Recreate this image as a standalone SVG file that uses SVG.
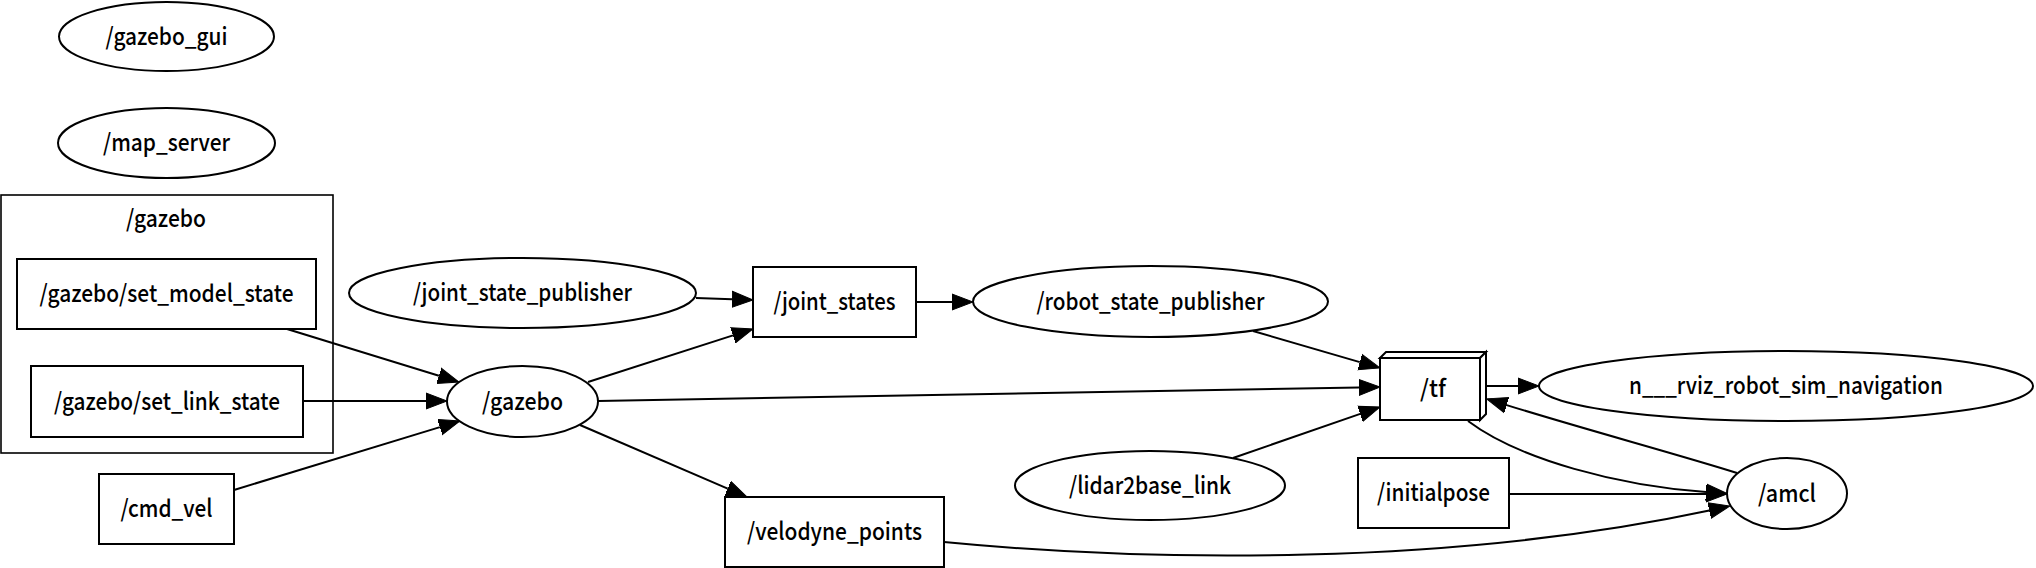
<svg xmlns="http://www.w3.org/2000/svg" width="2036" height="568" viewBox="0 0 2036 568">
<style>
  .n { fill: #fff; stroke: #000; stroke-width: 2; }
  .c { fill: none; stroke: #000; stroke-width: 1.6; }
  .e { fill: none; stroke: #000; stroke-width: 2; marker-end: url(#ah); }
  text { font-family: "Noto Sans CJK SC", "Noto Sans", sans-serif; font-size: 24px; font-weight: 500; fill: #000; text-anchor: middle; }
</style>
<defs>
  <marker id="ah" markerUnits="userSpaceOnUse" markerWidth="24" markerHeight="20" viewBox="0 -10 24 20" refX="0" refY="0" orient="auto">
    <path d="M0,-8 L21,0 L0,8 z" fill="#000" stroke="#000" stroke-width="1"/>
  </marker>
</defs>
<rect width="2036" height="568" fill="#fff"/>

<g id="cluster_gazebo">
  <rect class="c" x="1" y="195" width="332" height="258"/>
  <text x="166" y="227" textLength="80" lengthAdjust="spacingAndGlyphs">/gazebo</text>
</g>

<g id="edges">
  <path class="e" d="M287,329 L438.9,375.8"/>
  <path class="e" d="M303,401 L426,401"/>
  <path class="e" d="M234,490 L439.9,427.1"/>
  <path class="e" d="M696,298 L732,299.3"/>
  <path class="e" d="M588,382 L733,335.4"/>
  <path class="e" d="M598,401 L1359,387.4"/>
  <path class="e" d="M580,425 L727.7,488.7"/>
  <path class="e" d="M916,302 L952,302"/>
  <path class="e" d="M1253,331 L1359.8,362.1"/>
  <path class="e" d="M1233,458 L1360.2,413.9"/>
  <path class="e" d="M1487,386 L1518,386"/>
  <path class="e" d="M1737,473 C1680,455 1580,428 1506.7,405.1"/>
  <path class="e" d="M1468,421 C1520,460 1620,486 1706,492"/>
  <path class="e" d="M1509,494 L1706,494"/>
  <path class="e" d="M944,542 C1150,562 1450,566 1709.3,510.5"/>
</g>

<g id="gazebo_gui">
  <ellipse class="n" cx="166.5" cy="36.5" rx="107.5" ry="34.5"/>
  <text x="166.5" y="45" textLength="122" lengthAdjust="spacingAndGlyphs">/gazebo_gui</text>
</g>
<g id="map_server">
  <ellipse class="n" cx="166.5" cy="143" rx="108.5" ry="35"/>
  <text x="166.5" y="151" textLength="127" lengthAdjust="spacingAndGlyphs">/map_server</text>
</g>
<g id="set_model_state">
  <rect class="n" x="17" y="259" width="299" height="70"/>
  <text x="166.5" y="302" textLength="254" lengthAdjust="spacingAndGlyphs">/gazebo/set_model_state</text>
</g>
<g id="set_link_state">
  <rect class="n" x="31" y="366" width="272" height="71"/>
  <text x="167" y="410" textLength="226" lengthAdjust="spacingAndGlyphs">/gazebo/set_link_state</text>
</g>
<g id="cmd_vel">
  <rect class="n" x="99" y="474" width="135" height="70"/>
  <text x="166.5" y="517" textLength="92" lengthAdjust="spacingAndGlyphs">/cmd_vel</text>
</g>
<g id="gazebo">
  <ellipse class="n" cx="522.5" cy="401.5" rx="75.5" ry="35.5"/>
  <text x="522.5" y="410" textLength="81" lengthAdjust="spacingAndGlyphs">/gazebo</text>
</g>
<g id="joint_state_publisher">
  <ellipse class="n" cx="522.5" cy="293" rx="173.5" ry="35"/>
  <text x="522.5" y="301" textLength="219" lengthAdjust="spacingAndGlyphs">/joint_state_publisher</text>
</g>
<g id="joint_states">
  <rect class="n" x="753" y="267" width="163" height="70"/>
  <text x="834.5" y="310" textLength="122" lengthAdjust="spacingAndGlyphs">/joint_states</text>
</g>
<g id="robot_state_publisher">
  <ellipse class="n" cx="1150.5" cy="301.5" rx="177.5" ry="35.5"/>
  <text x="1150.5" y="310" textLength="228" lengthAdjust="spacingAndGlyphs">/robot_state_publisher</text>
</g>
<g id="velodyne_points">
  <rect class="n" x="725" y="497" width="219" height="70"/>
  <text x="834.5" y="540" textLength="175" lengthAdjust="spacingAndGlyphs">/velodyne_points</text>
</g>
<g id="lidar2base_link">
  <ellipse class="n" cx="1150" cy="485.5" rx="135" ry="34.5"/>
  <text x="1150" y="494" textLength="162" lengthAdjust="spacingAndGlyphs">/lidar2base_link</text>
</g>
<g id="tf">
  <polygon class="n" points="1380,358 1386,352 1486,352 1480,358"/>
  <polygon class="n" points="1480,358 1486,352 1486,414 1480,420"/>
  <rect class="n" x="1380" y="358" width="100" height="62"/>
  <text x="1433" y="397" textLength="26" lengthAdjust="spacingAndGlyphs">/tf</text>
</g>
<g id="rviz">
  <ellipse class="n" cx="1786" cy="386" rx="247" ry="35"/>
  <text x="1786" y="394" textLength="314" lengthAdjust="spacingAndGlyphs">n___rviz_robot_sim_navigation</text>
</g>
<g id="initialpose">
  <rect class="n" x="1358" y="458" width="151" height="70"/>
  <text x="1433.5" y="501" textLength="113" lengthAdjust="spacingAndGlyphs">/initialpose</text>
</g>
<g id="amcl">
  <ellipse class="n" cx="1787" cy="493.5" rx="60" ry="35.5"/>
  <text x="1787" y="502" textLength="58" lengthAdjust="spacingAndGlyphs">/amcl</text>
</g>
</svg>
